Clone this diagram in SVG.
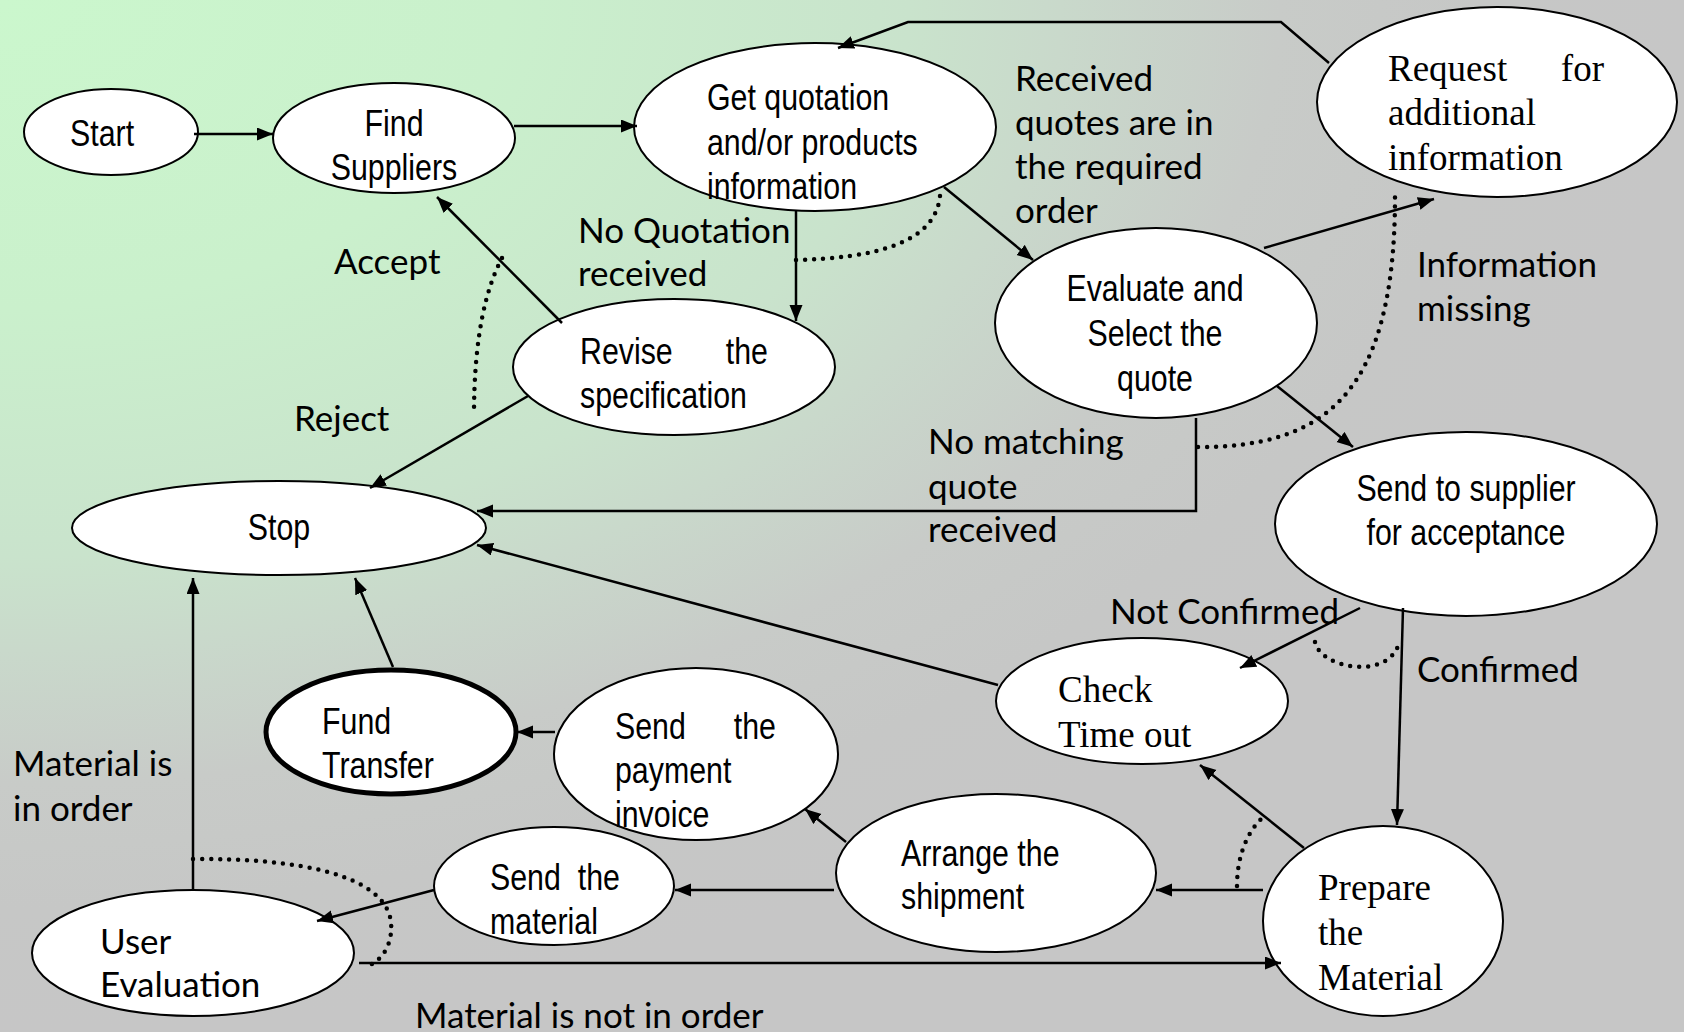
<svg xmlns="http://www.w3.org/2000/svg" width="1684" height="1032" viewBox="0 0 1684 1032">
<defs>
<radialGradient id="bg" cx="0" cy="0" r="1" gradientUnits="objectBoundingBox">
<stop offset="0" stop-color="#cbf7cd"/>
<stop offset="0.3" stop-color="#caf0cc"/>
<stop offset="0.54" stop-color="#c9e3cc"/>
<stop offset="0.63" stop-color="#c9d9cb"/>
<stop offset="0.76" stop-color="#c8cbc8"/>
<stop offset="0.88" stop-color="#c6c7c6"/>
<stop offset="1" stop-color="#c6c6c6"/>
</radialGradient>
<marker id="ah" markerUnits="userSpaceOnUse" markerWidth="18" markerHeight="14" refX="16" refY="6.5" orient="auto">
<path d="M0,0 L16,6.5 L0,13 z" fill="#000"/>
</marker>
<style>
.nd{fill:#fff;stroke:#000;stroke-width:2}
.bold{stroke-width:5}
.ln{fill:none;stroke:#000;stroke-width:2.5}
.ar{marker-end:url(#ah)}
.dt{fill:none;stroke:#000;stroke-width:4.5;stroke-linecap:round;stroke-dasharray:0 9}
.n{font-family:"Liberation Sans",Arial,sans-serif;font-size:37px;fill:#000}
.t{font-family:"Liberation Serif","Times New Roman",serif;font-size:37px;fill:#000}
.c{font-family:Lato,"Open Sans",sans-serif;font-size:35px;fill:#000}
.m{text-anchor:middle}
.e{text-anchor:end}
</style>
</defs>
<rect width="1684" height="1032" fill="url(#bg)"/>

<g id="n-start"><ellipse class="nd" cx="111" cy="132" rx="87" ry="43"/><text class="n" transform="translate(70,146) scale(0.82,1)">Start</text></g>
<g id="n-find"><ellipse class="nd" cx="394" cy="138" rx="121" ry="55"/><text class="n m" transform="translate(394,136) scale(0.82,1)">Find</text><text class="n m" transform="translate(394,180) scale(0.82,1)">Suppliers</text></g>
<g id="n-getquote"><ellipse class="nd" cx="815" cy="127" rx="181" ry="84"/><text class="n" transform="translate(707,110) scale(0.82,1)">Get quotation</text><text class="n" transform="translate(707,155) scale(0.82,1)">and/or products</text><text class="n" transform="translate(707,199) scale(0.82,1)">information</text></g>
<g id="n-request"><ellipse class="nd" cx="1497" cy="102" rx="180" ry="95"/><text class="t" x="1388" y="81">Request</text><text class="t e" x="1604" y="81">for</text><text class="t" x="1388" y="125">additional</text><text class="t" x="1388" y="170">information</text></g>
<g id="n-evaluate"><ellipse class="nd" cx="1156" cy="323" rx="161" ry="95"/><text class="n m" transform="translate(1155,301) scale(0.82,1)">Evaluate and</text><text class="n m" transform="translate(1155,346) scale(0.82,1)">Select the</text><text class="n m" transform="translate(1155,391) scale(0.82,1)">quote</text></g>
<g id="n-revise"><ellipse class="nd" cx="674" cy="367" rx="161" ry="68"/><text class="n" transform="translate(580,364) scale(0.82,1)">Revise</text><text class="n e" transform="translate(768,364) scale(0.82,1)">the</text><text class="n" transform="translate(580,408) scale(0.82,1)">specification</text></g>
<g id="n-stop"><ellipse class="nd" cx="279" cy="528" rx="207" ry="47"/><text class="n m" transform="translate(279,540) scale(0.82,1)">Stop</text></g>
<g id="n-sendsupplier"><ellipse class="nd" cx="1466" cy="524" rx="191" ry="92"/><text class="n m" transform="translate(1466,501) scale(0.82,1)">Send to supplier</text><text class="n m" transform="translate(1466,545) scale(0.82,1)">for acceptance</text></g>
<g id="n-check"><ellipse class="nd" cx="1142" cy="701" rx="146" ry="63"/><text class="t" x="1058" y="702">Check</text><text class="t" x="1058" y="747">Time out</text></g>
<g id="n-fund"><ellipse class="nd bold" cx="391" cy="732" rx="125" ry="62"/><text class="n" transform="translate(322,734) scale(0.82,1)">Fund</text><text class="n" transform="translate(322,778) scale(0.82,1)">Transfer</text></g>
<g id="n-sendpayment"><ellipse class="nd" cx="696" cy="754" rx="142" ry="86"/><text class="n" transform="translate(615,739) scale(0.82,1)">Send</text><text class="n e" transform="translate(776,739) scale(0.82,1)">the</text><text class="n" transform="translate(615,783) scale(0.82,1)">payment</text><text class="n" transform="translate(615,827) scale(0.82,1)">invoice</text></g>
<g id="n-arrange"><ellipse class="nd" cx="996" cy="873" rx="160" ry="79"/><text class="n" transform="translate(901,866) scale(0.82,1)">Arrange the</text><text class="n" transform="translate(901,909) scale(0.82,1)">shipment</text></g>
<g id="n-sendmaterial"><ellipse class="nd" cx="554" cy="886" rx="120" ry="59"/><text class="n" transform="translate(490,890) scale(0.82,1)">Send</text><text class="n e" transform="translate(620,890) scale(0.82,1)">the</text><text class="n" transform="translate(490,934) scale(0.82,1)">material</text></g>
<g id="n-user"><ellipse class="nd" cx="193" cy="953" rx="161" ry="63"/><text class="c" x="100" y="954">User</text><text class="c" x="100" y="997">Evaluation</text></g>
<g id="n-prepare"><ellipse class="nd" cx="1383" cy="921" rx="120" ry="95"/><text class="t" x="1318" y="900">Prepare</text><text class="t" x="1318" y="945">the</text><text class="t" x="1318" y="990">Material</text></g>

<g id="connectors">
<path class="ln ar" d="M194,134 L273,134"/>
<path class="ln ar" d="M514,126 L637,126"/>
<path class="ln ar" d="M1329,63 L1281,22 L908,22 L838,48"/>
<path class="ln ar" d="M944,187 L1033,260"/>
<path class="ln ar" d="M796,211 L796,321"/>
<path class="dt" d="M796,260 C870,258 935,245 940,196"/>
<path class="ln ar" d="M562,323 L437,197"/>
<path class="ln ar" d="M528,396 L370,488"/>
<path class="dt" d="M502,258 C485,290 474,340 474,415"/>
<path class="ln ar" d="M1264,248 L1434,199"/>
<path class="ln ar" d="M1277,386 L1353,447"/>
<path class="ln ar" d="M1196,418 L1196,511 L477,511"/>
<path class="dt" d="M1198,447 C1320,447 1395,400 1395,197"/>
<path class="ln ar" d="M1360,608 L1240,668"/>
<path class="ln ar" d="M1403,608 L1397,825"/>
<path class="dt" d="M1315,642 C1320,668 1385,680 1398,646"/>
<path class="ln ar" d="M998,685 L477,545"/>
<path class="ln ar" d="M393,667 L355,578"/>
<path class="ln ar" d="M555,732 L517,732"/>
<path class="ln ar" d="M846,842 L805,809"/>
<path class="ln ar" d="M834,890 L675,890"/>
<path class="ln ar" d="M1263,890 L1156,890"/>
<path class="ln ar" d="M1304,848 L1200,765"/>
<path class="dt" d="M1237,886 C1237,860 1245,835 1261,819"/>
<path class="ln ar" d="M434,890 L317,921"/>
<path class="ln ar" d="M193,890 L193,578"/>
<path class="ln ar" d="M359,963 L1281,963"/>
<path class="dt" d="M193,859 C300,858 385,875 391,922 C393,945 382,960 368,966"/>
</g>

<g id="labels">
<text class="c" x="1015" y="91">Received</text>
<text class="c" x="1015" y="135">quotes are in</text>
<text class="c" x="1015" y="179">the required</text>
<text class="c" x="1015" y="223">order</text>
<text class="c" x="578" y="243">No Quotation</text>
<text class="c" x="578" y="286">received</text>
<text class="c" x="334" y="274">Accept</text>
<text class="c" x="294" y="431">Reject</text>
<text class="c" x="1417" y="277">Information</text>
<text class="c" x="1417" y="321">missing</text>
<text class="c" x="928" y="454">No matching</text>
<text class="c" x="928" y="499">quote</text>
<text class="c" x="928" y="542">received</text>
<text class="c" x="1110" y="624">Not Confirmed</text>
<text class="c" x="1417" y="682">Confirmed</text>
<text class="c" x="13" y="776">Material is</text>
<text class="c" x="13" y="821">in order</text>
<text class="c" x="415" y="1028">Material is not in order</text>
</g>
</svg>
